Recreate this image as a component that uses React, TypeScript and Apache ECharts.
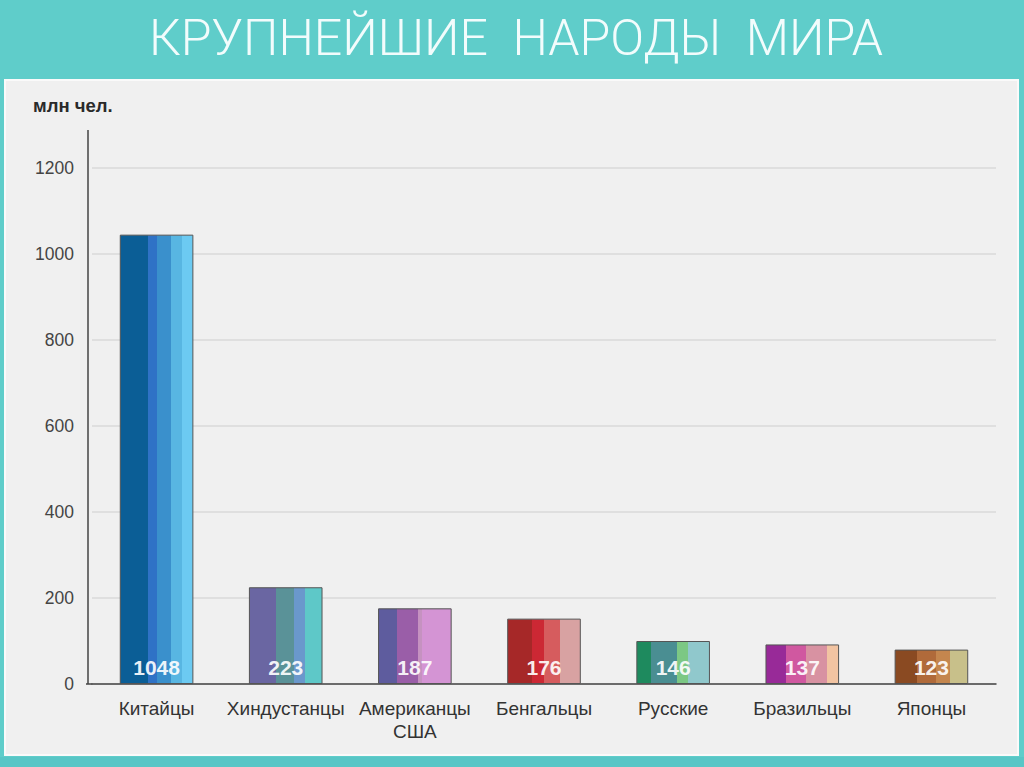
import React, { useEffect, useRef } from "react";
import * as echarts from "echarts";

const titleText = "КРУПНЕЙШИЕ  НАРОДЫ  МИРА";
const unitLabel = "млн чел.";
const categories = ["Китайцы", "Хиндустанцы", "Американцы\nСША", "Бенгальцы", "Русские", "Бразильцы", "Японцы"];
// bar heights as drawn in the picture
const barHeights = [1045, 225, 176, 152, 100, 92, 80];
// numbers printed on the bars
const valueLabels = ["1048", "223", "187", "176", "146", "137", "123"];
const yTicks = { min: 0, max: 1200, interval: 200 };

// stripe colours: [colour, end offset]
const stripeSets: [string, number][][] = [
  [["#0b5e96", 0.38], ["#2f72c6", 0.5], ["#3a90cc", 0.7], ["#58b6e2", 0.85], ["#6ccaf2", 1]],
  [["#6a66a2", 0.36], ["#5a9298", 0.62], ["#6a98cc", 0.76], ["#5ec8c8", 1]],
  [["#5e5c9e", 0.26], ["#9a5ea8", 0.55], ["#c592c0", 0.6], ["#d494d4", 1]],
  [["#a62828", 0.33], ["#cc2834", 0.5], ["#d65c5e", 0.72], ["#d8a2a2", 1]],
  [["#1e8a5e", 0.2], ["#4a8e92", 0.55], ["#7cc884", 0.7], ["#90c8cc", 1]],
  [["#982a98", 0.27], ["#d058a0", 0.55], ["#d892a2", 0.84], ["#f2c4a2", 1]],
  [["#8a4a22", 0.3], ["#b06a3a", 0.56], ["#c4864e", 0.76], ["#c8c08a", 1]],
];

function stripeGradient(set: [string, number][]) {
  const stops: { offset: number; color: string }[] = [];
  let start = 0;
  set.forEach(([c, end]) => {
    stops.push({ offset: start, color: c });
    stops.push({ offset: end, color: c });
    start = end;
  });
  return new echarts.graphic.LinearGradient(0, 0, 1, 0, stops);
}

export default function App() {
  const ref = useRef<HTMLDivElement>(null);
  useEffect(() => {
    if (!ref.current) return;
    const chart = echarts.init(ref.current, null, { renderer: "svg" });
    const font = "'Liberation Sans', Arial, sans-serif";
    chart.setOption({
      animation: false,
      backgroundColor: "#5fcdca",
      graphic: [
        {
          type: "rect",
          z: -10,
          shape: { x: 5, y: 80, width: 1013, height: 675 },
          style: { fill: "#f0f0f0", stroke: "#fafafa", lineWidth: 2 },
        },
        {
          type: "rect",
          z: -11,
          shape: { x: 0, y: 757, width: 1024, height: 10 },
          style: { fill: "#58c6c6" },
        },
        {
          type: "text",
          x: 516,
          y: 38,
          style: {
            text: titleText,
            fill: "#f2fcfc",
            font: "300 50px Roboto, 'Liberation Sans', sans-serif",
            textAlign: "center",
            textVerticalAlign: "middle",
          },
        },
        {
          type: "text",
          x: 33,
          y: 105,
          style: {
            text: unitLabel,
            fill: "#2a2a2a",
            font: "bold 18.5px " + font,
            textAlign: "left",
            textVerticalAlign: "middle",
          },
        },
        {
          type: "line",
          shape: { x1: 88, y1: 130, x2: 88, y2: 684 },
          style: { stroke: "#444", lineWidth: 1.5 },
        },
        {
          type: "line",
          shape: { x1: 86, y1: 684, x2: 93, y2: 684 },
          style: { stroke: "#444", lineWidth: 1.5 },
        },
      ],
      grid: { left: 92, right: 28, top: 168, bottom: 83 },
      xAxis: {
        type: "category",
        data: categories,
        axisLine: { show: true, lineStyle: { color: "#444", width: 1.5 } },
        axisTick: { show: false },
        axisLabel: { color: "#333", fontSize: 19, fontFamily: font, margin: 13, lineHeight: 23, interval: 0 },
      },
      yAxis: {
        type: "value",
        min: yTicks.min,
        max: yTicks.max,
        interval: yTicks.interval,
        axisLine: { show: false },
        axisTick: { show: false },
        axisLabel: {
          color: "#444",
          fontSize: 17.5,
          fontFamily: font,
          margin: 18,
          formatter: (v: number) => String(v),
        },
        splitLine: { show: true, lineStyle: { color: "#dadada", width: 1.5 } },
      },
      series: [
        {
          type: "bar",
          barWidth: "57%",
          data: barHeights.map((v, i) => ({
            value: v,
            itemStyle: {
              color: stripeGradient(stripeSets[i]),
              borderColor: "#555",
              borderWidth: 1,
            },
          })),
          label: {
            show: true,
            position: "insideBottom",
            distance: 6,
            formatter: (p: any) => valueLabels[p.dataIndex],
            color: "rgba(255,255,255,0.92)",
            fontSize: 21,
            fontWeight: "bold",
            fontFamily: font,
          },
        },
      ],
    });
    return () => chart.dispose();
  }, []);
  return (
    <div
      ref={ref}
      style={{ position: "absolute", left: 0, top: 0, width: 1024, height: 767 }}
    />
  );
}
